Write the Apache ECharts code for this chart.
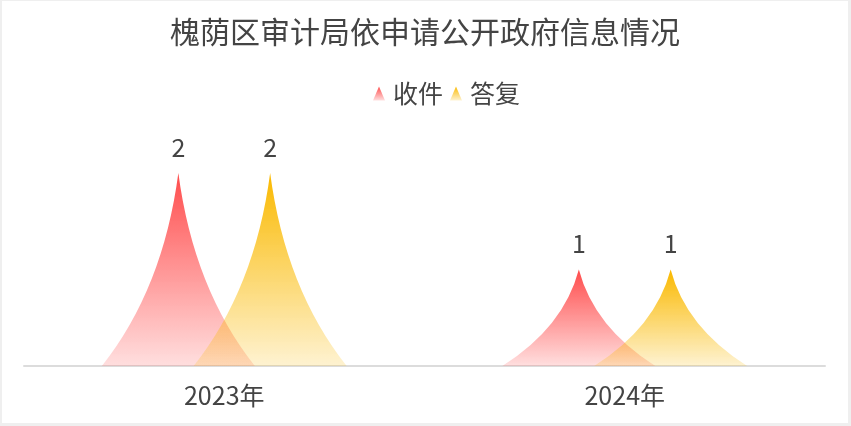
<!DOCTYPE html>
<html>
<head>
<meta charset="utf-8">
<script src="https://cdn.jsdelivr.net/npm/echarts@6/dist/echarts.min.js"></script>
<style>
html,body{margin:0;padding:0;background:#efefef;width:851px;height:426px;overflow:hidden;}
#main{position:absolute;left:2px;top:1px;width:846px;height:422px;background:#fff;}
</style>
</head>
<body>
<div id="main"></div>
<script>
const titleText = '槐荫区审计局依申请公开政府信息情况';
const categories = ['2023年', '2024年'];
const seriesNames = ['收件', '答复'];
const receivedValues = [2, 1];
const repliedValues = [2, 1];
const yMax = 2;

const spike = 'path://M5,0 Q6,6 10,10 L0,10 Q4,6 5,0 Z';
function grad(r, g, b) {
  return {
    type: 'linear', x: 0, y: 0, x2: 0, y2: 1,
    colorStops: [
      { offset: 0, color: `rgba(${r},${g},${b},1)` },
      { offset: 1, color: `rgba(${r},${g},${b},0.18)` }
    ]
  };
}
const font = '"Noto Sans CJK SC", "Noto Sans", sans-serif';
const chart = echarts.init(document.getElementById('main'));
chart.setOption({
  animation: false,
  title: {
    text: titleText, left: 'center', top: 11,
    textStyle: { fontSize: 30, fontWeight: 'normal', color: '#444', fontFamily: font }
  },
  legend: {
    data: seriesNames, top: 75, left: 366, icon: 'triangle',
    itemWidth: 12, itemHeight: 14, itemGap: 7,
    textStyle: { fontSize: 25, color: '#444', fontFamily: font, padding: [0, 0, 0, 3] }
  },
  grid: { left: 22, right: 23, top: 172, bottom: 57 },
  xAxis: {
    type: 'category', data: categories,
    axisTick: { show: false },
    axisLine: { lineStyle: { color: '#dcdcdc', width: 2 } },
    axisLabel: { fontSize: 25, color: '#444', margin: 17, fontFamily: font }
  },
  yAxis: { type: 'value', max: yMax, min: 0, show: false, splitLine: { show: false } },
  series: [
    {
      name: seriesNames[0], type: 'pictorialBar', symbol: spike,
      barWidth: 153, barGap: '-40%', data: receivedValues,
      itemStyle: { color: grad(255, 76, 76) },
      label: { show: true, position: 'top', distance: 13, fontSize: 25, color: '#444', fontFamily: font }
    },
    {
      name: seriesNames[1], type: 'pictorialBar', symbol: spike,
      barWidth: 153, barGap: '-40%', data: repliedValues,
      itemStyle: { color: grad(250, 185, 0) },
      label: { show: true, position: 'top', distance: 13, fontSize: 25, color: '#444', fontFamily: font }
    }
  ]
});
</script>
</body>
</html>
